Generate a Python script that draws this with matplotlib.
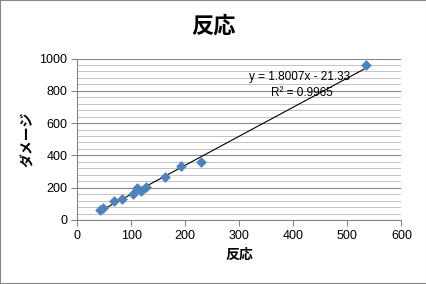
import numpy as np
import matplotlib.pyplot as plt
from matplotlib.ticker import MultipleLocator
from matplotlib.patches import Rectangle

plt.rcParams['font.family'] = ['Noto Sans CJK JP', 'DejaVu Sans']

# データ (読み取り値)
hannou = [42, 48, 68, 83, 104, 111, 118, 127, 163, 192, 230, 534]
damage = [64, 75, 120, 130, 159, 196, 178, 204, 264, 336, 357, 958]
slope, intercept = 1.8007, -21.33
eq_text = 'y = 1.8007x - 21.33'
r2_text = 'R² = 0.9965'

fig = plt.figure(figsize=(4.27, 2.84), dpi=100)
ax = fig.add_axes([77 / 427, 1 - 220 / 284, 324.5 / 427, 161.5 / 284])

ax.set_xlim(0, 600)
ax.set_ylim(0, 1000)
ax.xaxis.set_major_locator(MultipleLocator(100))
ax.yaxis.set_major_locator(MultipleLocator(200))
ax.yaxis.set_minor_locator(MultipleLocator(40))
ax.grid(axis='y', which='major', color='#868686', lw=0.8)
ax.grid(axis='y', which='minor', color='#b8b8b8', lw=0.6)
ax.set_axisbelow(True)

for s in ('top', 'right'):
    ax.spines[s].set_visible(False)
for s in ('left', 'bottom'):
    ax.spines[s].set_color('#868686')
ax.tick_params(which='major', direction='out', length=4, color='#868686',
               labelsize=9, pad=3)
ax.tick_params(axis='y', which='minor', length=0)
for lab in ax.get_xticklabels() + ax.get_yticklabels():
    lab.set_family(['Liberation Sans', 'DejaVu Sans'])

# 近似直線
xs = np.array([min(hannou), max(hannou)])
ax.plot(xs, slope * xs + intercept, color='black', lw=0.8, zorder=3)
ax.scatter(hannou, damage, marker='D', s=30, color='#4f81bd', zorder=4,
           linewidths=0)

ax.text(412, 885, eq_text, ha='center', va='center', fontsize=8.5,
        family=['Liberation Sans', 'DejaVu Sans'])
ax.text(415, 786, r2_text, ha='center', va='center', fontsize=8.5,
        family=['Liberation Sans', 'DejaVu Sans'])

ax.set_xlabel('反応', fontsize=10, fontweight='bold', labelpad=4)
ax.set_ylabel('ダメージ', fontsize=10, fontweight='bold', labelpad=3)
fig.text(0.5, 1 - 26 / 284, '反応', ha='center', va='center', fontsize=16,
         fontweight='bold')

fig.patches.append(Rectangle((0, 0), 1, 1, transform=fig.transFigure,
                             fill=False, edgecolor='#868686', lw=1.5))

fig.savefig('out.png', dpi=100)
